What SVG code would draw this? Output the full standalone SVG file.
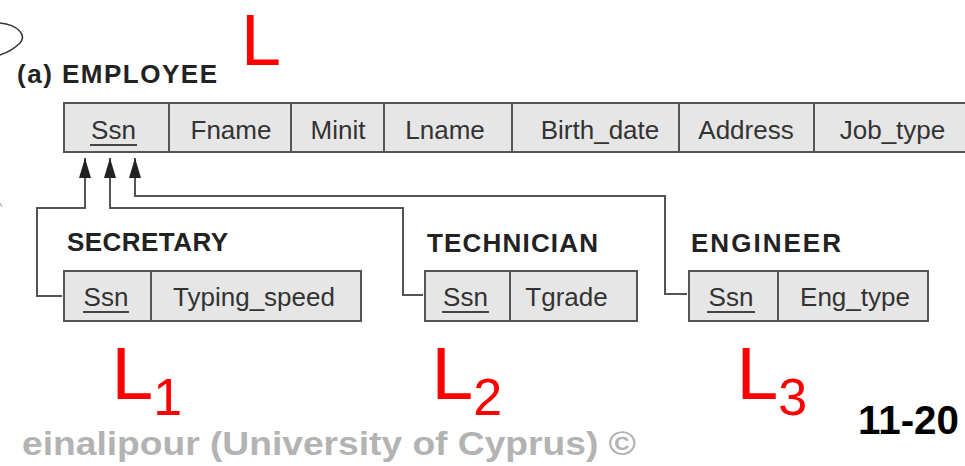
<svg xmlns="http://www.w3.org/2000/svg" width="965" height="466" viewBox="0 0 965 466">
<style>
.box{fill:#e6e6e6;stroke:#555;stroke-width:2}
.div{stroke:#555;stroke-width:2}
.cell{font-family:"Liberation Sans",Arial,sans-serif;font-size:26px;fill:#333;text-anchor:middle}
.title{font-family:"Liberation Sans",Arial,sans-serif;font-size:26px;font-weight:bold;fill:#222}
.ul{stroke:#444;stroke-width:2}
.conn{fill:none;stroke:#555;stroke-width:2}
.red{font-family:"Liberation Sans",Arial,sans-serif;font-size:75px;fill:#ff0000}
.sub{font-size:52px}
</style>
<defs>
<marker id="arr" markerUnits="userSpaceOnUse" markerWidth="20" markerHeight="12" refX="20" refY="6" orient="auto">
<path d="M0,0 L20,6 L0,12 z" fill="#222"/>
</marker>
</defs>
<rect width="965" height="466" fill="#fff"/>
<path d="M0,23 C18,25 27,35 20,43 C14,49 6,53 0,55" fill="none" stroke="#333" stroke-width="1.5"/>
<path d="M0,203 L2,207" fill="none" stroke="#999" stroke-width="1"/>

<g id="employee">
<text class="title" x="17" y="83" textLength="200" lengthAdjust="spacing">(a) EMPLOYEE</text>
<rect class="box" x="64" y="103" width="911" height="49"/>
<line class="div" x1="169" y1="103" x2="169" y2="152"/>
<line class="div" x1="291" y1="103" x2="291" y2="152"/>
<line class="div" x1="384" y1="103" x2="384" y2="152"/>
<line class="div" x1="512" y1="103" x2="512" y2="152"/>
<line class="div" x1="679" y1="103" x2="679" y2="152"/>
<line class="div" x1="814" y1="103" x2="814" y2="152"/>
<text class="cell" x="113.5" y="139">Ssn</text>
<line class="ul" x1="90" y1="145" x2="137" y2="145"/>
<text class="cell" x="231" y="139">Fname</text>
<text class="cell" x="338" y="139">Minit</text>
<text class="cell" x="445" y="139">Lname</text>
<text class="cell" x="600" y="139">Birth_date</text>
<text class="cell" x="746" y="139">Address</text>
<text class="cell" x="892.5" y="139">Job_type</text>
</g>

<g id="secretary">
<text class="title" x="67" y="251" textLength="161" lengthAdjust="spacing">SECRETARY</text>
<rect class="box" x="64" y="271" width="297" height="50"/>
<line class="div" x1="151" y1="271" x2="151" y2="321"/>
<text class="cell" x="106" y="306">Ssn</text>
<line class="ul" x1="83" y1="312" x2="129" y2="312"/>
<text class="cell" x="254" y="306">Typing_speed</text>
</g>

<g id="technician">
<text class="title" x="427" y="252" textLength="171" lengthAdjust="spacing">TECHNICIAN</text>
<rect class="box" x="425" y="271" width="212" height="50"/>
<line class="div" x1="510" y1="271" x2="510" y2="321"/>
<text class="cell" x="465.5" y="306">Ssn</text>
<line class="ul" x1="442" y1="312" x2="489" y2="312"/>
<text class="cell" x="566.5" y="306">Tgrade</text>
</g>

<g id="engineer">
<text class="title" x="691" y="252" textLength="150" lengthAdjust="spacing">ENGINEER</text>
<rect class="box" x="689" y="271" width="239" height="50"/>
<line class="div" x1="778" y1="271" x2="778" y2="321"/>
<text class="cell" x="731" y="306">Ssn</text>
<line class="ul" x1="707" y1="312" x2="755" y2="312"/>
<text class="cell" x="855" y="306">Eng_type</text>
</g>

<g id="connectors">
<path class="conn" d="M62,296 H37 V208 H85 V158" marker-end="url(#arr)"/>
<path class="conn" d="M423,295 H403 V208 H110 V158" marker-end="url(#arr)"/>
<path class="conn" d="M687,294 H665 V196 H135 V158" marker-end="url(#arr)"/>
</g>

<g id="labels">
<text class="red" x="241" y="65" font-size="72" style="font-size:72px">L</text>
<text class="red" x="111.5" y="399">L<tspan class="sub" dy="16">1</tspan></text>
<text class="red" x="431.5" y="399">L<tspan class="sub" dy="16">2</tspan></text>
<text class="red" x="736.5" y="399">L<tspan class="sub" dy="16">3</tspan></text>
<text x="858" y="434" font-family="'Liberation Sans',Arial,sans-serif" font-size="40" font-weight="bold" fill="#000" textLength="101" lengthAdjust="spacingAndGlyphs">11-20</text>
<text x="22" y="455" font-family="'Liberation Sans',Arial,sans-serif" font-size="34" font-weight="bold" fill="#b3b3b3" textLength="614" lengthAdjust="spacingAndGlyphs">einalipour (University of Cyprus) ©</text>
</g>
</svg>
